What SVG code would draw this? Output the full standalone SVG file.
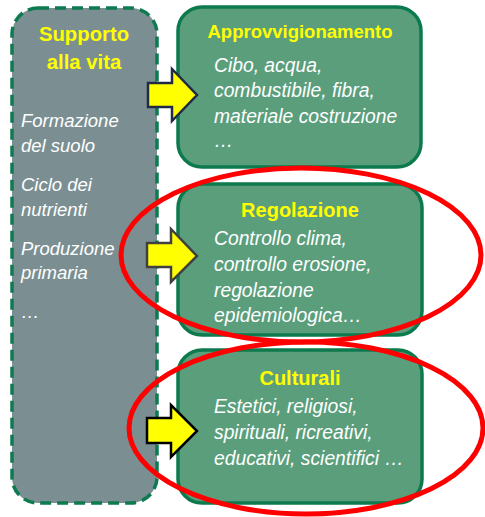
<svg xmlns="http://www.w3.org/2000/svg" width="485" height="517" viewBox="0 0 485 517">
<style>
.bg{fill:#7B8F93;stroke:#0E7A4F;stroke-width:3.5;stroke-dasharray:11,6}
.box{fill:#5A9E7C;stroke:#0C7A4D;stroke-width:3.5}
.ttl{font-family:"Liberation Sans",Arial,sans-serif;font-weight:bold;fill:#FFFF00;text-anchor:middle}
.txt{font-family:"Liberation Sans",Arial,sans-serif;font-style:italic;fill:#FFFFFF;font-size:18.5px}
.rt{font-size:19.3px}
.arr{fill:#FFFF00;stroke-width:2.5;stroke-linejoin:miter}
.ring{fill:none;stroke:#FF0000;stroke-width:5}
</style>
<g id="supporto">
<rect class="bg" x="12" y="8" width="145" height="495" rx="26"/>
<text class="ttl" x="84" y="41" font-size="20.3">Supporto</text>
<text class="ttl" x="84" y="69" font-size="20.3">alla vita</text>
<text class="txt" x="21" y="127">Formazione</text>
<text class="txt" x="21" y="152">del suolo</text>
<text class="txt" x="21" y="191">Ciclo dei</text>
<text class="txt" x="21" y="216">nutrienti</text>
<text class="txt" x="21" y="255">Produzione</text>
<text class="txt" x="21" y="279">primaria</text>
<text class="txt" x="21" y="318">…</text>
</g>
<g id="approvvigionamento">
<rect class="box" x="178" y="7" width="243" height="160" rx="24"/>
<text class="ttl" x="300" y="38" font-size="18.5">Approvvigionamento</text>
<text class="txt rt" x="214" y="72">Cibo, acqua,</text>
<text class="txt rt" x="214" y="97">combustibile, fibra,</text>
<text class="txt rt" x="214" y="123">materiale costruzione</text>
<text class="txt rt" x="214" y="147">…</text>
</g>
<g id="regolazione">
<rect class="box" x="178" y="184" width="244" height="151" rx="24"/>
<text class="ttl" x="300" y="217" font-size="20">Regolazione</text>
<text class="txt rt" x="214" y="245">Controllo clima,</text>
<text class="txt rt" x="214" y="271">controllo erosione,</text>
<text class="txt rt" x="214" y="297">regolazione</text>
<text class="txt rt" x="214" y="322">epidemiologica…</text>
</g>
<g id="culturali">
<rect class="box" x="178" y="350" width="244" height="153" rx="24"/>
<text class="ttl" x="300" y="385" font-size="20">Culturali</text>
<text class="txt rt" x="214" y="413">Estetici, religiosi,</text>
<text class="txt rt" x="214" y="439">spirituali, ricreativi,</text>
<text class="txt rt" x="214" y="465">educativi, scientifici …</text>
</g>
<g id="connectors">
<path class="arr" stroke="#1F2A44" d="M148,83 H172 V69 L197,95 L172,121 V107 H148 Z"/>
<path class="arr" stroke="#404040" d="M147,243 H171 V229 L197,256 L171,282 V267 H147 Z"/>
<path class="arr" stroke="#000000" d="M147,418 H171 V405 L197,431 L171,457 V443 H147 Z"/>
</g>
<g id="highlights">
<ellipse class="ring" cx="301" cy="255" rx="180" ry="87"/>
<ellipse class="ring" cx="306" cy="428" rx="177" ry="86"/>
</g>
</svg>
